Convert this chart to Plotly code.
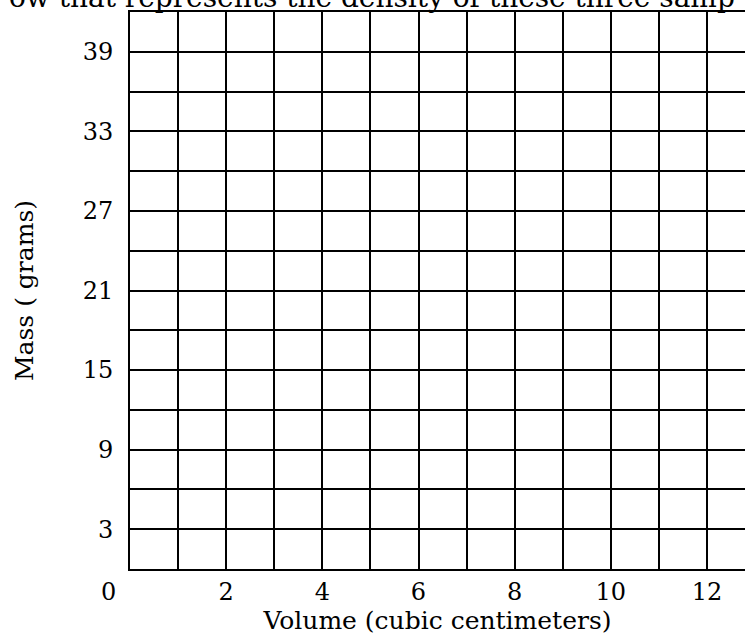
import plotly.graph_objects as go

# Axis labelling
x_tick_vals = [2, 4, 6, 8, 10, 12]
y_tick_vals = [3, 9, 15, 21, 27, 33, 39]
x_grid_step = 1
y_grid_step = 3
x_range = [0, 12.79]
y_range = [0, 42]

x_title = "Volume (cubic centimeters)"
y_title = "Mass ( grams)"
heading = "ow that represents the density of these three samp"

FONT = "DejaVu Serif"
INK = "black"

fig = go.Figure()
# invisible trace so the axes are laid out
fig.add_trace(go.Scatter(x=[x_range[0]], y=[y_range[0]], mode="markers",
                         marker=dict(opacity=0), hoverinfo="skip", showlegend=False))

fig.update_layout(
    width=745, height=643,
    margin=dict(l=130, r=0, t=12, b=74),
    paper_bgcolor="white", plot_bgcolor="white",
    font=dict(family=FONT, size=24, color=INK),
    showlegend=False,
)

fig.update_xaxes(
    range=x_range, tickmode="array", tickvals=x_tick_vals,
    ticks="", tickfont=dict(size=24),
    showgrid=True, gridcolor=INK, gridwidth=2,
    minor=dict(dtick=x_grid_step, tick0=0, showgrid=True, gridcolor=INK, gridwidth=2),
    showline=True, linecolor=INK, linewidth=2, mirror=True,
    zeroline=False,
    title=dict(text=x_title, standoff=0, font=dict(size=25)),
)
fig.update_yaxes(
    range=y_range, tickmode="array", tickvals=y_tick_vals,
    ticks="outside", ticklen=10, tickcolor="rgba(0,0,0,0)",
    tickfont=dict(size=24),
    showgrid=True, gridcolor=INK, gridwidth=2,
    minor=dict(dtick=y_grid_step, tick0=0, showgrid=True, gridcolor=INK, gridwidth=2),
    showline=True, linecolor=INK, linewidth=2,
    zeroline=False,
    title=dict(text=y_title, standoff=42, font=dict(size=25)),
)

# shared origin label
fig.add_annotation(text="0", x=0, y=0, xref="x", yref="y", showarrow=False,
                   xshift=-22, yshift=-23, font=dict(size=24))

# heading line running along the top edge
fig.add_annotation(text=heading, x=(372 - 130) / 615, xref="paper", y=1, yref="paper",
                   yanchor="bottom", yshift=-4, showarrow=False,
                   font=dict(size=28))

fig.write_html("out.html")
